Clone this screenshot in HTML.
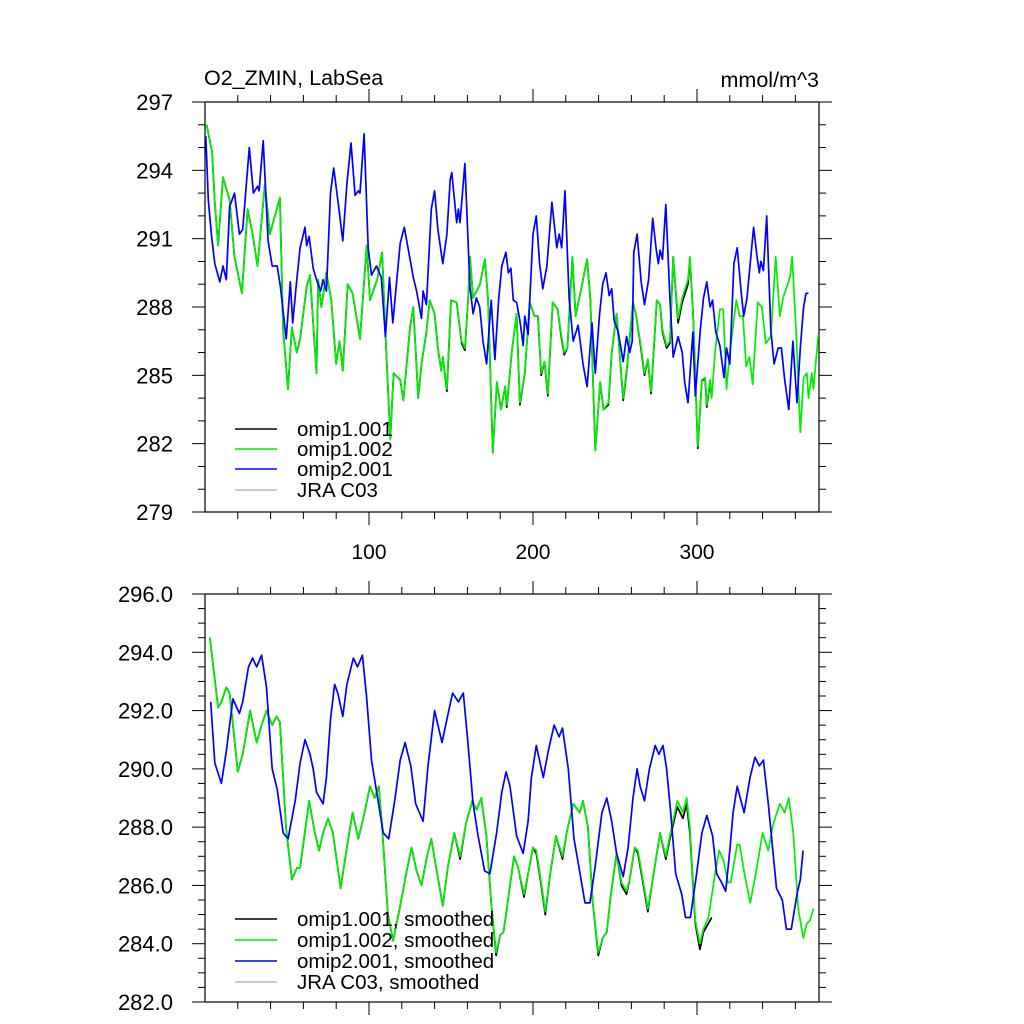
<!DOCTYPE html>
<html><head><meta charset="utf-8"><style>
html,body{margin:0;padding:0;background:#fff}
svg{display:block}
text{font-family:"Liberation Sans",sans-serif;fill:#000}
</style></head><body>
<svg id="chart" width="1024" height="1024" viewBox="0 0 1024 1024" xmlns="http://www.w3.org/2000/svg">
<text x="204" y="85" font-size="21.5">O2_ZMIN, LabSea</text>
<text x="819" y="87" font-size="21.5" text-anchor="end">mmol/m^3</text>
<g id="top"></g>
<g id="bot"></g>
</svg>
<script>
const topYTicks=[279,282,285,288,291,294,297];
const topYLabels=["279","282","285","288","291","294","297"];
const botYTicks=[282,284,286,288,290,292,294,296];
const botYLabels=["282.0","284.0","286.0","288.0","290.0","292.0","294.0","296.0"];
const xTicks=[100,200,300];
const xLabels=["100","200","300"];

const greenTopT=[1,4.3,6,8,11,15,18,22.5,26,29,32,36.5,39.6,45.7,47.6,50.6,53,56,58,62,64,68,69,71,74,77,80,82,84,87,90,94.5,98.6,100.6,105,108,110,113,115,119,121,125,127,130,132,135,137,140,142,144,145,147.5,150,153.5,155.5,156.5,158.5,160.5,161.6,163.5,167.7,170.7,172.6,175.5,178,180.5,183,184,187,190,192,195,198,201,203,205,207,209,212,215,217,219,221,224,226,228,233,235,238,241,243,246,248,251,255,257,261,263,266,268,270,272,275.5,277.5,279,281.5,283.5,285.5,288.5,291,294.5,295.7,297.6,300.5,303,305,306,308,309,311,314,316,318,320,324,326,328,330,332,334,337,339.5,342,345,348,350.5,352.5,356.7,358,360.5,363,365,367,368,370,371,373,374];
const greenTopV=[296.0,294.8,292.6,290.7,293.7,292.7,290.2,288.6,292.3,291.2,289.8,293.4,291.2,292.8,287.0,284.4,287.1,286.0,286.6,288.9,289.4,285.1,289.2,288.0,289.5,288.3,285.5,286.5,285.2,289.0,288.6,286.6,290.7,288.3,289.2,290.4,286.9,282.2,285.1,284.8,283.9,287.1,288.0,284.0,285.5,286.9,288.3,287.7,286.2,285.2,285.8,284.4,288.3,288.2,287.0,286.5,286.2,288.4,290.2,288.4,289.0,290.1,288.3,281.6,284.7,283.5,284.5,283.7,286.0,287.7,283.8,285.1,288.2,287.6,287.6,285.1,285.6,284.2,288.2,287.9,286.9,286.0,286.2,290.2,287.6,288.3,290.1,288.3,281.7,284.7,283.5,283.8,286.0,287.7,284.0,285.2,288.2,287.6,286.2,285.1,285.7,284.3,288.3,288.1,287.0,286.3,286.5,290.2,287.5,288.4,289.2,290.2,287.7,281.9,284.8,284.9,283.7,284.8,284.0,286.0,287.9,287.9,284.4,286.0,288.3,287.6,287.6,285.4,285.8,284.6,288.2,288.0,286.4,286.7,290.2,287.6,288.4,289.3,290.2,286.9,282.5,284.9,285.1,284.0,285.1,284.4,286.0,286.8];

const blackTopT=[1,4.3,6,8,11,15,18,22.5,26,29,32,36.5,39.6,45.7,47.6,50.6,53,56,58,62,64,68,69,71,74,77,80,82,84,87,90,94.5,98.6,100.6,105,108,110,113,115,119,121,125,127,130,132,135,137,140,142,144,145,147.5,150,153.5,155.5,156.5,158.5,160.5,161.6,163.5,167.7,170.7,172.6,175.5,178,180.5,183,184,187,190,192,195,198,201,203,205,207,209,212,215,217,219,221,224,226,228,233,235,238,241,243,246,248,251,255,257,261,263,266,268,270,272,275.5,277.5,279,281.5,283.5,285.5,288.5,291,294.5,295.7,297.6,300.5,303,305,306,308,309];
const blackTopV=[296.0,294.8,292.6,290.7,293.7,292.7,290.2,288.6,292.3,291.2,289.8,293.4,291.2,292.8,287.0,284.4,287.1,286.0,286.6,288.9,289.4,285.1,289.2,288.0,289.5,288.3,285.5,286.5,285.2,289.0,288.6,286.6,290.7,288.3,289.2,290.4,286.9,282.2,285.1,284.8,283.9,287.1,288.0,284.0,285.5,286.9,288.3,287.7,286.2,285.2,285.8,284.3,288.3,288.2,287.0,286.4,286.1,288.4,290.2,288.4,289.0,290.1,288.3,281.6,284.7,283.5,284.5,283.6,286.0,287.7,283.7,285.1,288.2,287.6,287.6,285.0,285.6,284.1,288.2,287.9,286.8,285.9,286.2,290.2,287.6,288.3,290.1,288.3,281.7,284.7,283.5,283.7,286.0,287.7,283.9,285.1,288.2,287.6,286.1,285.0,285.7,284.2,288.3,288.1,286.9,286.2,286.4,290.2,287.3,288.2,289.0,290.1,287.7,281.8,284.8,284.8,283.6,284.7,284.0];

const blueTopT=[0.5,2,4,6,9,11,13,15,18,21,23,27,29.5,32,33,35.5,38.5,41,44,46,49.5,52,53.5,56,58,61,62,63.5,66,68,70.5,72,74,76.5,78.5,81,84,86.5,89,91.5,93.5,94.5,97,99.5,101.5,104.5,107.5,110,112.5,114.5,119,121.5,124,127,129,132,133,135,138,140,142,145,147.5,149.5,150.5,153.5,154.5,155.5,158.5,161.5,163.5,165.5,167.5,169.5,171.7,174.5,176.8,179,181,183.5,185,186.5,188,190,192,194,195,197,200,202,204,206,208.5,211.5,214.5,216,217.5,219.5,222,224.5,227.5,230.5,233,236,238,240.5,242.5,244.5,246.5,248,249.5,252,255,257,259,260.5,261.5,263.5,266,268,270.5,273,275,276.5,277.5,279,281,283.5,285.5,288.5,291,292.5,294.5,297.5,299,302,304,306,308,309.5,311.5,314,316.5,318,320,322.5,324.5,327,328.5,330.5,334.5,336.5,338,339,340.5,342.5,345,347,349.5,351.5,353.5,356,358.5,361,363,365,366.5,368];
const blueTopV=[295.5,292.7,291.1,289.9,289.1,289.8,289.2,292.4,293.0,291.2,291.4,295.0,293.0,293.3,293.1,295.3,290.9,289.8,289.8,288.9,286.6,289.1,287.3,289.2,290.6,291.5,290.7,291.1,289.7,289.2,288.7,289.2,288.7,293.0,294.1,292.7,290.9,293.4,295.2,292.9,293.1,293.0,295.6,290.6,289.4,289.8,289.3,286.7,289.3,287.3,290.8,291.5,290.5,289.3,288.7,287.5,288.7,288.1,292.3,293.1,291.4,289.9,291.2,293.6,293.9,291.7,292.3,291.7,294.3,288.9,287.7,288.4,288.0,286.5,285.5,288.3,285.7,288.3,289.8,290.4,289.5,289.7,288.3,288.2,287.4,286.3,287.6,286.8,291.2,292.0,289.9,288.8,289.8,292.6,290.6,291.2,290.6,293.1,288.4,286.5,287.2,285.5,284.5,287.3,285.1,287.6,289.0,289.5,288.5,288.8,287.4,286.9,285.6,286.7,286.0,286.5,290.4,291.2,289.1,288.1,289.2,291.9,290.6,289.9,290.5,290.1,292.5,288.4,285.8,286.7,286.0,284.7,283.8,286.9,284.1,287.0,288.4,289.1,288.0,288.3,286.9,286.3,284.9,286.2,285.5,289.9,290.6,288.6,287.6,288.4,291.5,290.3,289.5,290.0,289.6,292.0,287.0,285.5,286.2,286.2,284.8,283.5,286.5,283.8,286.2,288.0,288.6,288.6];

const greenBotT=[3,8,10,13,15,20,23,27.5,31.5,34.5,37.5,41,43.7,45.7,49.4,53,56,58,63.5,67,69.6,72,75,78,82.7,86.5,90,93.5,96.5,100.6,103.5,106,108,111.5,114.7,119,123,126,129,132,135,138,141,145,148,152,155.6,159,163,165.6,168.5,171.6,174.5,177.5,180,182,185,188.5,191,194.5,197,200,202,204.5,207.5,210.5,214,218,220.5,224.5,228.5,230.5,233.5,236.5,239.8,242.5,245,247.5,251,254,257,259,262,264,267,270,273,277.5,281,283.5,288,291.4,293.7,295.7,299,301.8,304,307,311,313.5,316,319,320.5,324.5,326,329,332.5,336.5,340,343.5,346.5,350.5,353.5,356,358.7,361.7,364.8,367,369,371];
const greenBotV=[294.5,292.1,292.3,292.8,292.6,289.9,290.5,292.0,290.9,291.5,292.0,291.5,291.8,291.6,288.0,286.2,286.6,286.6,288.9,287.8,287.2,287.8,288.3,287.8,285.9,287.3,288.5,287.6,288.3,289.4,289.0,289.4,288.0,285.0,284.1,285.3,286.5,287.3,286.5,286.0,286.9,287.6,286.6,285.3,286.6,287.8,287.0,288.1,288.9,288.6,289.0,287.7,285.4,283.7,284.3,284.4,285.6,287.0,286.6,285.7,286.4,287.3,287.2,286.3,285.1,286.4,287.7,287.0,287.8,288.8,288.5,288.9,288.0,285.4,283.7,284.2,284.4,285.7,287.1,286.1,285.8,286.2,287.3,287.2,286.2,285.2,286.2,287.8,287.0,287.7,288.9,288.5,289.0,288.0,284.8,284.0,284.5,284.9,286.4,287.2,286.9,286.1,286.1,287.4,287.4,286.4,285.4,286.6,287.8,287.2,288.1,288.8,288.5,289.0,287.8,285.2,284.2,284.7,284.8,285.2];

const blackBotT=[3,8,10,13,15,20,23,27.5,31.5,34.5,37.5,41,43.7,45.7,49.4,53,56,58,63.5,67,69.6,72,75,78,82.7,86.5,90,93.5,96.5,100.6,103.5,106,108,111.5,114.7,119,123,126,129,132,135,138,141,145,148,152,155.6,159,163,165.6,168.5,171.6,174.5,177.5,180,182,185,188.5,191,194.5,197,200,202,204.5,207.5,210.5,214,218,220.5,224.5,228.5,230.5,233.5,236.5,239.8,242.5,245,247.5,251,254,257,259,262,264,267,270,273,277.5,281,283.5,288,291.4,293.7,295.7,299,301.8,304,307,309];
const blackBotV=[294.5,292.1,292.3,292.8,292.6,289.9,290.5,292.0,290.9,291.5,292.0,291.5,291.8,291.6,288.0,286.2,286.6,286.6,288.9,287.8,287.2,287.8,288.3,287.8,285.9,287.3,288.5,287.6,288.3,289.4,289.0,289.4,288.0,285.0,284.1,285.3,286.5,287.3,286.5,286.0,286.9,287.6,286.6,285.3,286.6,287.8,286.9,288.1,288.9,288.6,289.0,287.7,285.4,283.6,284.3,284.4,285.6,287.0,286.6,285.6,286.4,287.3,287.1,286.2,285.0,286.4,287.7,286.9,287.8,288.8,288.5,288.9,288.0,285.4,283.6,284.2,284.4,285.7,287.1,286.0,285.7,286.2,287.3,287.1,286.1,285.1,286.2,287.8,286.9,287.6,288.7,288.3,288.8,287.8,284.7,283.8,284.4,284.7,284.9];

const blueBotT=[3.5,6,10,13,17,21,23,26.5,29,31.5,34.5,37.5,41,44,47.7,50.7,55,58,61,64,66,68,72,74,76.5,79,81,84,86.5,90.5,93,96,98.5,101.5,104.7,108.7,112,115.7,119,122,125.5,128.5,133,136,140,144.5,147.5,151,154.5,157.5,160,163.5,166.5,170.5,173.7,177.8,181,183.6,186,190,194,197,199,202,206.3,209.3,212.9,215.9,218,221.5,225,228.7,231.7,234.7,237.8,242,245,248,251,255,258,261,263.5,265.3,268,271,274.5,276.8,279.3,281.5,284,287,290.7,293,296,299.5,303,306,309.5,312,315,317.5,320,322,324.5,328.7,332.3,335.4,338,340.5,343.5,348.5,352,354.5,357.5,361,363,364.7];
const blueBotV=[292.3,290.2,289.5,290.6,292.4,291.9,292.3,293.5,293.8,293.5,293.9,292.8,290.0,289.3,287.8,287.6,288.9,290.2,291.0,290.5,290.0,289.2,288.8,289.7,291.7,292.9,292.6,291.8,292.9,293.8,293.5,293.9,292.5,290.3,289.2,287.8,287.6,288.9,290.3,290.9,290.1,288.8,288.2,290.1,292.0,290.9,291.7,292.6,292.3,292.6,291.1,288.8,287.7,286.5,286.4,287.8,289.2,289.9,289.4,287.7,287.1,288.2,289.7,290.8,289.7,290.6,291.5,291.1,291.4,290.0,287.6,286.4,285.4,285.4,286.6,288.5,289.0,288.2,287.1,286.3,287.3,289.0,290.0,289.4,288.9,290.0,290.8,290.5,290.8,290.0,288.5,286.4,285.7,284.9,284.9,286.3,287.8,288.4,287.7,286.4,286.1,285.8,287.2,288.5,289.4,288.5,289.7,290.4,290.1,290.3,288.8,285.9,285.5,284.5,284.5,285.7,286.2,287.2];

const NS="http://www.w3.org/2000/svg";
const X0=205,X1=819,XMIN=0,XMAX=374.4;
function sx(t){return X0+(t-XMIN)/(XMAX-XMIN)*(X1-X0);}
function mk(tag,attrs,parent){const e=document.createElementNS(NS,tag);for(const k in attrs)e.setAttribute(k,attrs[k]);parent.appendChild(e);return e;}

function panel(g,y0,y1,vmin,vmax,yT,yL,minorStep,showX,prefix){
  const sy=v=>y1-(v-vmin)/(vmax-vmin)*(y1-y0);
  const frame=mk('rect',{x:X0,y:y0,width:X1-X0,height:y1-y0,fill:'none',stroke:'#000','stroke-width':1.2},g);
  
  
  const ticks=mk('g',{stroke:'#000','stroke-width':1},g);
  
  
  for(let v=vmin;v<=vmax+1e-6;v+=minorStep){
    const y=sy(v);const major=yT.some(m=>Math.abs(m-v)<1e-6);const L=major?13:7;
    mk('line',{x1:X0-L,y1:y,x2:X0,y2:y},ticks);mk('line',{x1:X1,y1:y,x2:X1+L,y2:y},ticks);
  }
  for(let t=20;t<XMAX;t+=20){
    const x=sx(t);const major=t%100===0;const L=major?13:7;
    mk('line',{x1:x,y1:y0-L,x2:x,y2:y0},ticks);mk('line',{x1:x,y1:y1,x2:x,y2:y1+L},ticks);
  }
  yT.forEach((v,i)=>{
    const tx=mk('text',{x:X0-32,y:sy(v)+8,'font-size':22,'text-anchor':'end'},g);
    
    
    tx.textContent=yL[i];
  });
  if(showX){xTicks.forEach((t,i)=>{
    const tx=mk('text',{x:sx(t),y:y1+47,'font-size':21,'text-anchor':'middle'},g);
    
    
    tx.textContent=xLabels[i];
  });}
  return sy;
}
function series(g,sy,T,V,color,name){
  const p=T.map((t,i)=>sx(t).toFixed(1)+','+sy(V[i]).toFixed(1)).join(' ');
  const pl=mk('polyline',{points:p,fill:'none',stroke:color,'stroke-width':1.7,'stroke-linejoin':'round'},g);
  
  
}
function legend(g,entries,ys,colors,prefix){
  entries.forEach((lab,i)=>{
    const e=mk('g',{},g);
    
    
    mk('line',{x1:235,y1:ys[i],x2:277,y2:ys[i],stroke:colors[i],'stroke-width':1.5},e);
    const tx=mk('text',{x:297,y:ys[i]+7,'font-size':20.5},e);
    tx.textContent=lab;
  });
}
const gt=document.getElementById('top'),gb=document.getElementById('bot');
const syT=panel(gt,102,512,279,297,topYTicks,topYLabels,1,true,'top-');
series(gt,syT,blackTopT,blackTopV,'#000','top-omip1-001-line');
series(gt,syT,greenTopT,greenTopV,'#00ee00','top-omip1-002-line');
series(gt,syT,blueTopT,blueTopV,'#0000ff','top-omip2-001-line');
legend(gt,["omip1.001","omip1.002","omip2.001","JRA C03"],[429,449,469,490],['#000','#00ee00','#0000ff','#bbbbbb'],'top-');
const syB=panel(gb,594,1002,282,296,botYTicks,botYLabels,0.5,false,'bottom-');
series(gb,syB,blackBotT,blackBotV,'#000','bottom-omip1-001-line');
series(gb,syB,greenBotT,greenBotV,'#00ee00','bottom-omip1-002-line');
series(gb,syB,blueBotT,blueBotV,'#0000ff','bottom-omip2-001-line');
legend(gb,["omip1.001, smoothed","omip1.002, smoothed","omip2.001, smoothed","JRA C03, smoothed"],[919,940,961,982],['#000','#00ee00','#0000ff','#bbbbbb'],'bottom-');
</script>
</body></html>
